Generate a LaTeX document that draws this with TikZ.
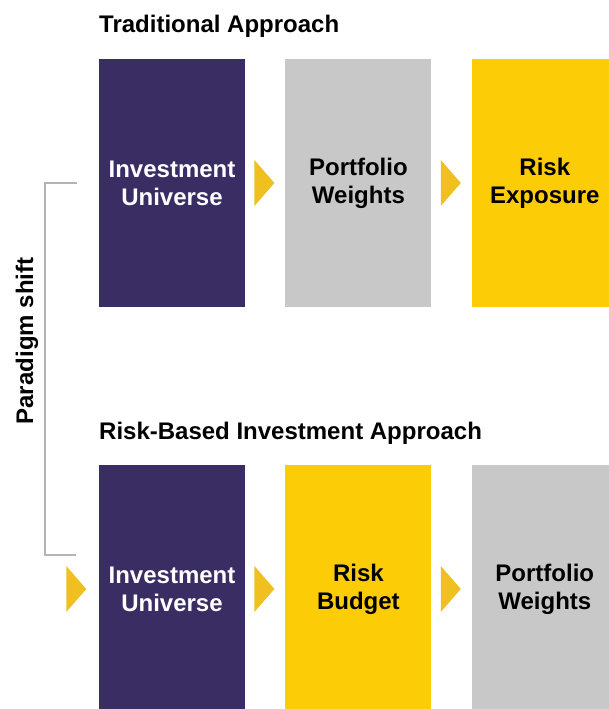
\documentclass[tikz,border=0pt]{standalone}
\usepackage{fontspec}
\setmainfont{Liberation Sans}
\usetikzlibrary{positioning, shapes.geometric}

\definecolor{unipurple}{HTML}{3A2D63}
\definecolor{wgtgray}{HTML}{C8C8C8}
\definecolor{riskyellow}{HTML}{FCCC07}
\definecolor{arrowgold}{HTML}{EFC020}
\definecolor{linegray}{HTML}{B4B4B4}

\begin{document}
\begin{tikzpicture}[
    x=1pt, y=-1pt,
    stage/.style={rectangle, inner sep=0pt, minimum width=146pt, minimum height=248pt,
        align=center, font=\fontsize{24}{28}\selectfont\bfseries},
    title/.style={anchor=base west, inner sep=0pt, font=\fontsize{24}{28}\selectfont\bfseries},
    pointer/.style={isosceles triangle, isosceles triangle stretches, fill=arrowgold,
        inner sep=0pt, minimum width=46pt, minimum height=20pt},
    bracket/.style={draw=linegray, line width=2pt},
]
    \useasboundingbox (0,0) rectangle (608,709);

    % Titles
    \node[title] (T1) at (99,33) {Traditional Approach};
    \node[title] (T2) at (99,439) {Risk-Based Investment Approach};

    % Traditional row
    \node[stage, fill=unipurple, text=white] (A) at (172,183) {Investment\\Universe};
    \node[stage, fill=wgtgray] (B) [right=40pt of A] {Portfolio\\Weights};
    \node[stage, fill=riskyellow] (C) [right=40pt of B] {Risk\\Exposure};

    % Risk-based row
    \node[stage, fill=unipurple, text=white] (D) at (172,589) {Investment\\Universe};
    \node[stage, fill=riskyellow] (E) [right=40pt of D] {Risk\\Budget};
    \node[stage, fill=wgtgray] (F) [right=40pt of E] {Portfolio\\Weights};

    % Arrows
    \node[pointer] (AB) [right=9pt of A] {};
    \node[pointer] (BC) [right=9pt of B] {};
    \node[pointer] (DE) [right=9pt of D] {};
    \node[pointer] (EF) [right=9pt of E] {};
    \node[pointer] (ND) [left=12pt of D] {};

    % Paradigm shift
    \coordinate (top) at (77,183);
    \coordinate (bot) at (76,555);
    \draw[bracket] (top) -- ++(-32,0) |- (bot);
    \node[rotate=90, anchor=base, inner sep=0pt, font=\fontsize{24}{28}\selectfont\bfseries]
        (P) at (33,341) {Paradigm shift};

\end{tikzpicture}
\end{document}
